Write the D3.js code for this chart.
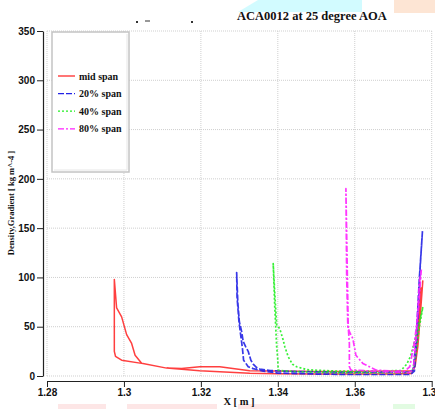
<!DOCTYPE html>
<html>
<head>
<meta charset="utf-8">
<script src="https://cdn.jsdelivr.net/npm/d3@7"></script>
<style>
  html, body { margin: 0; padding: 0; background: #fff; overflow: hidden; }
  svg { display: block; font-family: "Liberation Serif", "Times New Roman", serif; font-weight: bold; }
</style>
</head>
<body>
<svg id="chart" width="435" height="409"></svg>
<script>
const titleText = 'ACA0012 at 25 degree AOA';
const xLabel = 'X [ m ]';
const yLabel = 'Density,Gradient [ kg m^-4 ]';

const xTicks = [1.28, 1.3, 1.32, 1.34, 1.36, 1.38];
const yTicks = [0, 50, 100, 150, 200, 250, 300, 350];

const seriesNames = ['mid span', '20% span', '40% span', '80% span'];

// each series is one closed loop: right end -> upper side -> peak -> lower side -> right end
const midX = [1.3777, 1.3771, 1.3764, 1.3757, 1.3750, 1.3700, 1.3600, 1.3500, 1.3400, 1.3327, 1.3249, 1.3197, 1.3150, 1.3111,
  1.3046, 1.3029, 1.3020, 1.3007, 1.2994, 1.2981, 1.2975, 1.2975, 1.2978, 1.2994, 1.3046, 1.3111, 1.3197, 1.3327, 1.3400,
  1.3500, 1.3600, 1.3700, 1.3748, 1.3756, 1.3765, 1.3772];
const midY = [97, 65, 30, 10, 5, 5, 4.5, 4.5, 5, 5.4, 9.4, 9.4, 7.5, 8,
  13, 21, 33, 42, 60, 69, 98, 25, 20, 16, 12.8, 8, 5.4, 2.7, 2.2,
  2, 2, 2, 2.5, 10, 50, 90];

const span20X = [1.3776, 1.3768, 1.3760, 1.3752, 1.3740, 1.3650, 1.3550, 1.3450, 1.3380, 1.3353, 1.3345, 1.3336, 1.3330, 1.3323,
  1.3316, 1.3310, 1.3306, 1.3300, 1.3296, 1.3293, 1.3294, 1.3299, 1.3304, 1.3308, 1.3311, 1.3314, 1.3323, 1.3336, 1.3362,
  1.3400, 1.3500, 1.3600, 1.3700, 1.3745, 1.3755, 1.3762, 1.3770, 1.3776];
const span20Y = [147, 100, 40, 6, 4, 4, 4, 4.5, 5.5, 7, 8.5, 12, 16, 25,
  30, 35, 45, 55, 75, 105, 80, 55, 40, 28, 16, 14.5, 9.4, 7.5, 5,
  3, 2, 1.5, 1.5, 1.5, 5, 40, 110, 147];

const span40X = [1.3777, 1.3765, 1.3752, 1.3745, 1.3735, 1.3720, 1.3650, 1.3550, 1.3492, 1.3475, 1.3449, 1.3438, 1.3427, 1.3418,
  1.3414, 1.3405, 1.3397, 1.3392, 1.3388, 1.3392, 1.3397, 1.3400, 1.3401, 1.3420, 1.3480, 1.3550, 1.3650, 1.3735, 1.3750,
  1.3758, 1.3768, 1.3777];
const span40Y = [70, 50, 30, 20, 12, 5.5, 5, 5, 6, 6.5, 9.4, 12, 19.6, 30,
  36.5, 48, 52, 85, 114, 70, 30, 16, 6, 5, 4, 3.5, 3.5, 3.5, 5,
  20, 50, 70];

const span80X = [1.3773, 1.3766, 1.3756, 1.3743, 1.3730, 1.3700, 1.3655, 1.3621, 1.3603, 1.3595, 1.3586, 1.3582, 1.3579, 1.3577,
  1.3583, 1.3586, 1.3586, 1.3590, 1.3603, 1.3638, 1.3700, 1.3740, 1.3752, 1.3760, 1.3768, 1.3773];
const span80Y = [108, 70, 36.5, 9.4, 5, 5, 6, 12.8, 21, 38, 45, 50, 100, 190,
  50, 33, 9.4, 6, 6, 5, 4, 3.5, 6, 40, 95, 108];

const seriesX = [midX, span20X, span40X, span80X];
const seriesY = [midY, span20Y, span40Y, span80Y];

const colors = ['#ff2a2a', '#2222e6', '#22ee22', '#ff22ff'];
const dashes = [null, '6,2', '2,2', '6,2,2,2'];

const svg = d3.select('#chart');

// faint scan artefacts around the picture
svg.append('polygon').attr('points', '258,0 362,0 362,12 238,12').attr('fill', '#d2fbff');
svg.append('rect').attr('x', 394).attr('y', 0).attr('width', 41).attr('height', 13).attr('fill', '#fde5d4');
[[58, 48, '#fde6e6'], [127, 90, '#fde6e6'], [238, 122, '#fde6e6'], [393, 22, '#e2fbe2']].forEach(([x, w, c]) => {
  svg.append('rect').attr('x', x).attr('y', 404).attr('width', w).attr('height', 5).attr('fill', c);
});

const x = d3.scaleLinear().domain([1.28, 1.38]).range([47, 431.7]);
const y = d3.scaleLinear().domain([0, 350]).range([376, 31]);

// grid
const grid = svg.append('g').attr('stroke', '#cfcfcf').attr('stroke-width', 1).attr('stroke-dasharray', '1,1');
grid.selectAll('line.v').data(xTicks).join('line')
  .attr('x1', (d) => x(d)).attr('x2', (d) => x(d)).attr('y1', y(350)).attr('y2', y(0));
grid.selectAll('line.h').data(yTicks).join('line')
  .attr('x1', x(1.28)).attr('x2', x(1.38)).attr('y1', (d) => y(d)).attr('y2', (d) => y(d));

// axes
const fmt = (d) => String(+d.toFixed(2));
const xMinor = d3.range(1.28, 1.3801, 0.005);
const yMinor = d3.range(0, 351, 10);

const xAxisG = svg.append('g').attr('transform', 'translate(0,381)');
xAxisG.call(d3.axisBottom(x).tickValues(xMinor).tickSize(3).tickFormat('').tickSizeOuter(0));
xAxisG.call(d3.axisBottom(x).tickValues(xTicks).tickSize(6).tickFormat(fmt).tickSizeOuter(0));
xAxisG.selectAll('text').attr('font-size', 10).attr('font-weight', 'bold').attr('fill', '#111').attr('dy', '0.55em');

const yAxisG = svg.append('g').attr('transform', 'translate(43,0)');
yAxisG.call(d3.axisLeft(y).tickValues(yMinor).tickSize(3).tickFormat('').tickSizeOuter(0));
yAxisG.call(d3.axisLeft(y).tickValues(yTicks).tickSize(6).tickFormat(d3.format('d')).tickSizeOuter(0));
yAxisG.selectAll('text').attr('font-size', 10).attr('font-weight', 'bold').attr('fill', '#111').attr('x', -8);
svg.selectAll('.domain').attr('stroke', '#222').attr('stroke-width', 1.2);
svg.selectAll('.tick line').attr('stroke', '#222');

// legend box
svg.append('rect').attr('x', 52).attr('y', 32).attr('width', 77).attr('height', 140)
  .attr('fill', '#fff').attr('stroke', '#c4c4c4').attr('stroke-width', 1.5);
svg.append('path').attr('d', 'M54,170 H127 V34').attr('fill', 'none').attr('stroke', '#e6e6e6').attr('stroke-width', 1);

const legend = svg.append('g').selectAll('g').data(seriesNames).join('g')
  .attr('transform', (d, i) => `translate(58,${76 + i * 17.6})`);
legend.append('line').attr('x1', 0).attr('x2', 17).attr('y1', 0).attr('y2', 0)
  .attr('stroke', (d, i) => colors[i]).attr('stroke-width', 1.3)
  .attr('stroke-dasharray', (d, i) => dashes[i]);
legend.append('text').attr('x', 21).attr('y', 3.5).attr('font-size', 10).attr('fill', '#111').text((d) => d);

// curves
const line = d3.line().x((d) => x(d[0])).y((d) => y(d[1]));
seriesX.forEach((xs, i) => {
  const pts = xs.map((v, j) => [v, seriesY[i][j]]);
  svg.append('path').datum(pts)
    .attr('d', line)
    .attr('fill', 'none')
    .attr('stroke', colors[i])
    .attr('stroke-opacity', 0.9)
    .attr('stroke-width', i === 0 ? 1.5 : 1.7)
    .attr('stroke-linejoin', 'round')
    .attr('stroke-dasharray', dashes[i]);
});

// titles
svg.append('text').attr('x', 237).attr('y', 20).attr('font-size', 12.5).attr('fill', '#111').text(titleText);
// remnants of the covered part of the title
svg.append('rect').attr('x', 136).attr('y', 21).attr('width', 2).attr('height', 2).attr('fill', '#333');
svg.append('rect').attr('x', 145).attr('y', 20.5).attr('width', 5).attr('height', 1).attr('fill', '#333');
svg.append('rect').attr('x', 191).attr('y', 21).attr('width', 2).attr('height', 2).attr('fill', '#333');

svg.append('text').attr('x', 239).attr('y', 405).attr('text-anchor', 'middle')
  .attr('font-size', 10.5).attr('fill', '#111').text(xLabel);
svg.append('text').attr('transform', 'translate(14,203) rotate(-90)').attr('text-anchor', 'middle')
  .attr('font-size', 8.5).attr('fill', '#111').text(yLabel);
</script>
</body>
</html>
